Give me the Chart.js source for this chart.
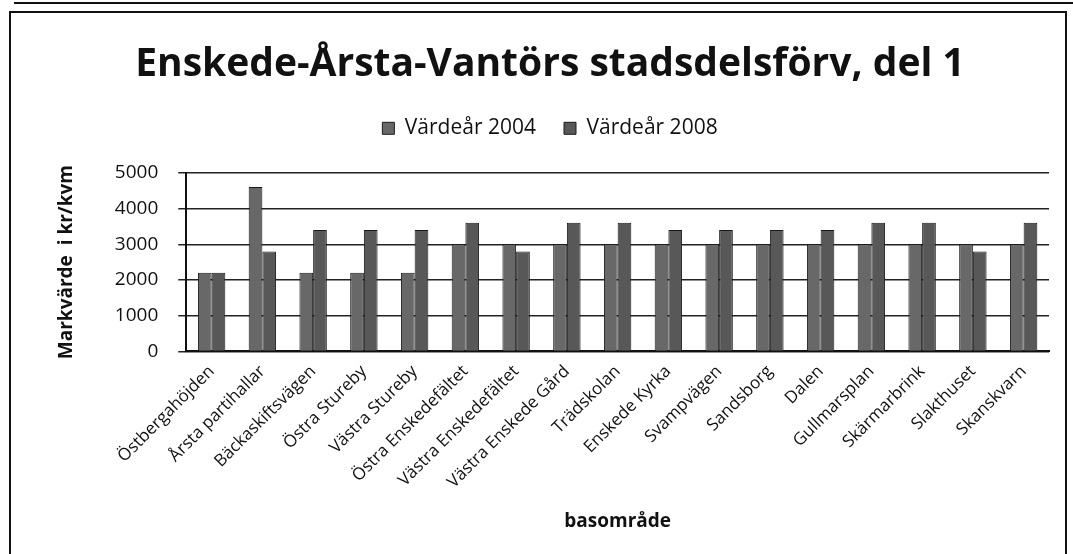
<!DOCTYPE html>
<html>
<head>
<meta charset="utf-8">
<script src="https://cdn.jsdelivr.net/npm/chart.js@4"></script>
<style>
  body { margin: 0; background: #fff; }
  #frame { position: absolute; left: 9px; top: 11px; width: 1058px; height: 545px; border: 2px solid #111; border-bottom: none; box-sizing: border-box; }
  #topline { position: absolute; left: 14px; top: 2px; width: 1059px; height: 2px; background: #111; }
  canvas { display: block; }
</style>
</head>
<body>
<div id="topline"></div>
<div id="frame"><canvas id="chart" width="1054" height="543"></canvas></div>
<script>
const omraden = ['Östbergahöjden', 'Årsta partihallar', 'Bäckaskiftsvägen', 'Östra Stureby', 'Västra Stureby',
  'Östra Enskedefältet', 'Västra Enskedefältet', 'Västra Enskede Gård', 'Trädskolan', 'Enskede Kyrka',
  'Svampvägen', 'Sandsborg', 'Dalen', 'Gullmarsplan', 'Skärmarbrink', 'Slakthuset', 'Skanskvarn'];
const varde2004 = [2200, 4600, 2200, 2200, 2200, 3000, 3000, 3000, 3000, 3000, 3000, 3000, 3000, 3000, 3000, 3000, 3000];
const varde2008 = [2200, 2800, 3400, 3400, 3400, 3600, 2800, 3600, 3600, 3400, 3400, 3400, 3400, 3600, 3600, 2800, 3600];
const yTicks = [0, 1000, 2000, 3000, 4000, 5000];

const font = '"Open Sans", Lato, sans-serif';

// extra space under the legend
const legendGap = {
  id: 'legendGap',
  beforeInit(chart) {
    const fit = chart.legend.fit;
    chart.legend.fit = function () {
      fit.call(this);
      this.height += 24;
    };
  }
};

new Chart(document.getElementById('chart').getContext('2d'), {
  type: 'bar',
  data: {
    labels: omraden,
    datasets: [
      { label: 'Värdeår 2004', data: varde2004, backgroundColor: '#686868', borderColor: '#1a1a1a', borderWidth: 1 },
      { label: 'Värdeår 2008', data: varde2008, backgroundColor: '#585858', borderColor: '#1a1a1a', borderWidth: 1 }
    ]
  },
  plugins: [legendGap],
  options: {
    responsive: false,
    animation: false,
    layout: { padding: { left: 40, right: 16, top: 10, bottom: 19 } },
    datasets: { bar: { barPercentage: 1, categoryPercentage: 0.54 } },
    scales: {
      x: {
        grid: { display: false },
        border: { color: '#111', width: 2 },
        ticks: { color: '#111', font: { family: font, size: 17 }, minRotation: 45, maxRotation: 45, padding: 2 },
        title: { display: true, text: 'basområde', color: '#111', font: { family: font, size: 19, weight: 'bold' }, padding: { top: 16 } }
      },
      y: {
        min: 0, max: 5000,
        afterBuildTicks: axis => { axis.ticks = yTicks.map(v => ({ value: v })); },
        grid: { color: '#222', lineWidth: 1.5, tickLength: 8 },
        border: { color: '#111', width: 2 },
        ticks: { color: '#111', font: { family: font, size: 19 }, padding: 20, callback: v => String(v) },
        title: { display: true, text: 'Markvärde  i kr/kvm', color: '#111', font: { family: font, size: 19, weight: 'bold' }, padding: { bottom: 17 } }
      }
    },
    plugins: {
      title: {
        display: true,
        text: 'Enskede-Årsta-Vantörs stadsdelsförv, del 1',
        color: '#111',
        font: { family: font, size: 39, weight: 'bold' },
        padding: { top: 18, bottom: 2 }
      },
      legend: {
        position: 'top',
        labels: { color: '#111', font: { family: font, size: 21 }, boxWidth: 12, boxHeight: 12, padding: 28 }
      },
      tooltip: { enabled: false }
    }
  }
});
</script>
</body>
</html>
